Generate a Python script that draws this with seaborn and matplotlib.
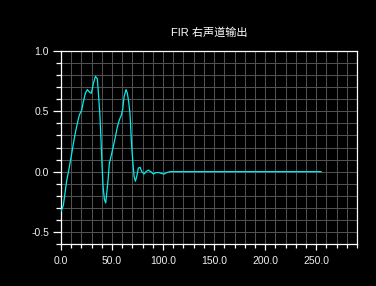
import matplotlib
matplotlib.use("Agg")
import matplotlib.pyplot as plt
import seaborn as sns
import pandas as pd
from matplotlib.ticker import MultipleLocator, FormatStrFormatter

title = "FIR 右声道输出"
x_vals = [0, 2.3, 3.9, 5.5, 8.2, 10.5, 12.1, 14.0, 16.0, 18.0, 20.3, 21.9, 23.9, 25.8,
          27.8, 29.7, 31.7, 33.7, 35.6, 36.9, 38.2, 39.2, 40.2, 41.2, 42.5, 43.8, 44.8,
          46.1, 47.4, 49.4, 51.3, 53.3, 55.2, 57.2, 59.2, 60.5, 61.8, 63.7, 65.0, 66.3,
          67.6, 68.9, 70.2, 71.6, 72.9, 74.2, 75.8, 77.5, 79.1, 81.4, 83.3, 85.6, 87.9,
          90.5, 93.1, 95.8, 98.4, 101.0, 103.6, 106.9, 255.0]
y_vals = [-0.33, -0.28, -0.18, -0.08, 0.04, 0.15, 0.23, 0.32, 0.40, 0.47, 0.51, 0.58, 0.65, 0.68,
          0.66, 0.65, 0.73, 0.79, 0.77, 0.62, 0.46, 0.26, 0.055, -0.12, -0.23, -0.26, -0.18,
          -0.07, 0.07, 0.14, 0.21, 0.29, 0.37, 0.43, 0.47, 0.52, 0.62, 0.68, 0.65, 0.58,
          0.48, 0.26, 0.10, -0.04, -0.08, -0.04, 0.03, 0.035, 0.0, -0.02, 0.0, 0.013, 0.0,
          -0.02, -0.008, -0.008, -0.015, -0.02, -0.008, 0.0, 0.0]
x_ticks = [0, 50, 100, 150, 200, 250]
y_ticks = [-0.5, 0.0, 0.5, 1.0]

sns.set_style("dark")
plt.rcParams["font.family"] = ["Liberation Sans", "Noto Sans CJK SC", "DejaVu Sans"]

df = pd.DataFrame({"x": x_vals, "y": y_vals})

fig = plt.figure(figsize=(3.76, 2.86), dpi=100, facecolor="black")
ax = fig.add_axes([61/376, 42/286, 296/376, 193/286])
ax.set_facecolor("black")

sns.lineplot(data=df, x="x", y="y", ax=ax, color="#00eeee", linewidth=0.9,
             estimator=None, sort=False, zorder=3)

ax.set_xlim(0, 290)
ax.set_ylim(-0.6, 1.0)
ax.set_xticks(x_ticks)
ax.set_yticks(y_ticks)
ax.xaxis.set_minor_locator(MultipleLocator(10))
ax.yaxis.set_minor_locator(MultipleLocator(0.1))
ax.xaxis.set_major_formatter(FormatStrFormatter("%.1f"))
ax.yaxis.set_major_formatter(FormatStrFormatter("%.1f"))
ax.grid(True, which="both", color="#505050", linewidth=0.75, zorder=0)
ax.set_axisbelow(True)
for s in ax.spines.values():
    s.set_visible(True)
    s.set_color("white")
    s.set_linewidth(0.9)
ax.tick_params(axis="both", which="both", colors="white", labelcolor="#f0f0f0",
               labelsize=7.5, direction="out", bottom=True, left=True)
ax.tick_params(axis="y", which="major", length=6, width=0.9, pad=2.5)
ax.tick_params(axis="y", which="minor", length=3.5, width=0.9)
ax.tick_params(axis="x", which="major", length=4, width=0.9, pad=5)
ax.tick_params(axis="x", which="minor", length=3, width=0.9)
ax.set_xlabel("")
ax.set_ylabel("")
ax.set_title(title, color="white", fontsize=8, pad=11)

fig.savefig("out.png", dpi=100, facecolor="black")
